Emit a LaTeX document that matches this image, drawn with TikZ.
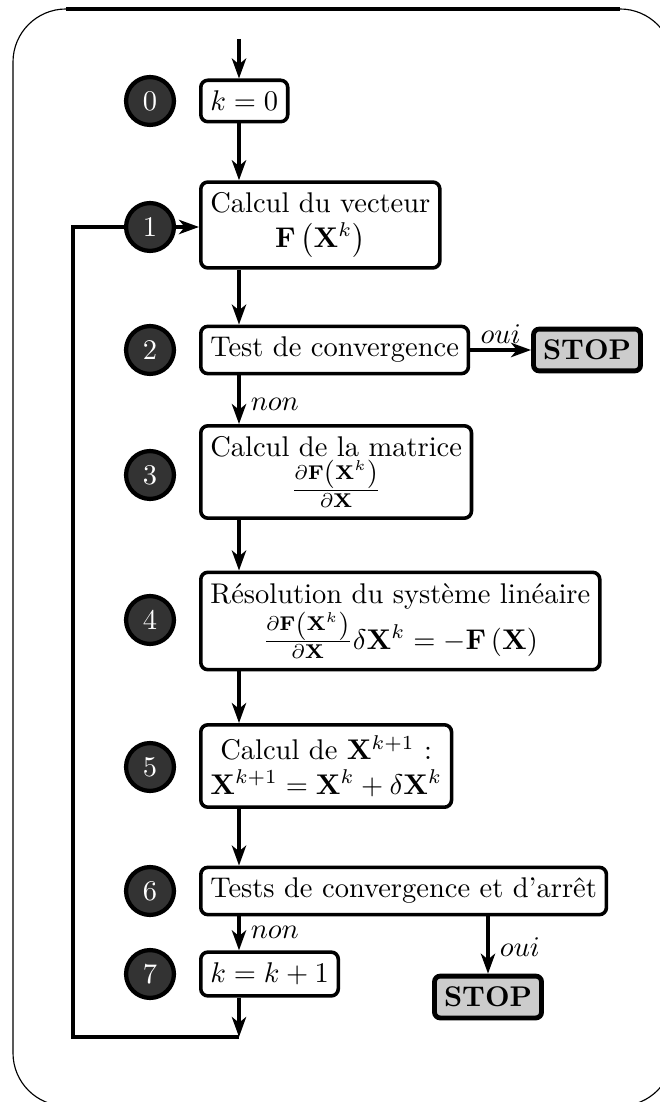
\documentclass[tikz,border=0pt]{standalone}
\usepackage{amsmath,amssymb}
\usepackage{tikz}
\usetikzlibrary{arrows.meta,calc}
\definecolor{disc}{RGB}{51,51,51}
\definecolor{stopgray}{RGB}{204,204,204}
\tikzset{
  flow/.style={line width=1.25pt,-{Stealth[length=7pt,width=5pt,inset=2pt]}},
  loopline/.style={line width=1.4pt},
  stepbox/.style={draw,line width=1.25pt,rounded corners=2.5pt,fill=white,
    align=center,anchor=west,inner ysep=3.8pt},
  stopbox/.style={draw,line width=1.7pt,rounded corners=2pt,fill=stopgray,
    font=\bfseries,inner ysep=3.8pt},
  num/.style={circle,draw,line width=1.5pt,fill=disc,text=white,
    minimum size=16.8pt,inner sep=0pt},
  tag/.style={inner sep=3.5pt}
}

\begin{document}
\begin{tikzpicture}[x=0.351pt,y=-0.351pt]
  \useasboundingbox (0,0) rectangle (660,1102);
  \clip (0,0) rectangle (660,1102);
  % frame
  \draw[thin,rounded corners=18.6pt] (13,9) rectangle (673,1106);
  \draw[line width=1.1pt] (66,9) -- (620,9);
  % step numbers
  \foreach \n/\y in {0/101,1/227,2/350,3/475,4/620,5/767,6/891,7/974}
    {\node[num] (c\n) at (150,\y) {\n};}
  % steps
  \node[stepbox] (s0) at (199,101) {$k=0$};
  \node[stepbox] (s1) at (199,225) {Calcul du vecteur\\$\mathbf{F}\left(\mathbf{X}^k\right)$};
  \node[stepbox] (s2) at (199,350) {Test de convergence};
  \node[stepbox] (s3) at (199,472) {Calcul de la matrice\\
    $\frac{\partial\mathbf{F}\left(\mathbf{X}^k\right)}{\partial\mathbf{X}}$};
  \node[stepbox] (s4) at (199,621) {R\'esolution du syst\`eme lin\'eaire\\
    $\frac{\partial\mathbf{F}\left(\mathbf{X}^k\right)}{\partial\mathbf{X}}\delta\mathbf{X}^k=-\mathbf{F}\left(\mathbf{X}\right)$};
  \node[stepbox] (s5) at (199,766) {Calcul de $\mathbf{X}^{k+1}$ :\\
    $\mathbf{X}^{k+1}=\mathbf{X}^k+\delta\mathbf{X}^k$};
  \node[stepbox] (s6) at (199,891) {Tests de convergence et d'arr\^et};
  \node[stepbox] (s7) at (199,974) {$k=k+1$};
  \node[stopbox] (stop1) at (587,350) {STOP};
  \node[stopbox] (stop2) at (488,997) {STOP};
  % connectors
  \coordinate (col) at (239,0);
  \coordinate (entry) at (239,39);
  \coordinate (back) at (239,1037);
  \coordinate (corner) at (73,1037);
  \draw[flow] (entry) -- (s0.north -| col);
  \foreach \a/\b in {s0/s1,s1/s2,s3/s4,s4/s5,s5/s6}
    {\draw[flow] (\a.south -| col) -- (\b.north -| col);}
  \draw[flow] (s2.south -| col) -- (s3.north -| col)
    node[tag,right,pos=0.6] {$non$};
  \draw[flow] (s6.south -| col) -- (s7.north -| col)
    node[tag,right,pos=0.47] {$non$};
  \draw[flow] (s2.east) -- (stop1.west) node[tag,midway,above,inner sep=1.5pt] {$oui$};
  \draw[flow] (s6.south -| stop2) -- (stop2.north)
    node[tag,right,pos=0.54] {$oui$};
  \draw[flow] (s7.south -| col) -- (back);
  \draw[loopline] (back) -- (corner) |- (c1.west);
  \draw[flow] (c1.east) -- (c1.east -| s1.west);
\end{tikzpicture}
\end{document}
